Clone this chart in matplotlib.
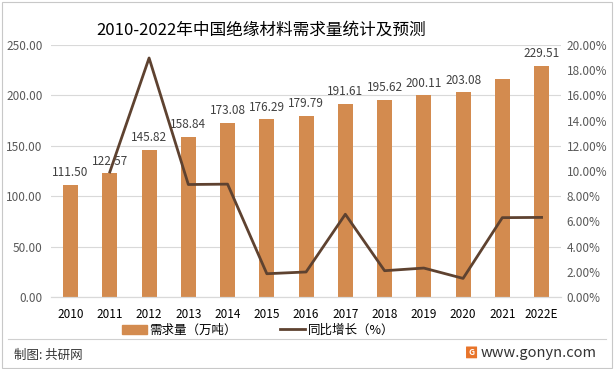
import matplotlib
matplotlib.use("Agg")
import matplotlib.pyplot as plt
from matplotlib.patches import Rectangle, FancyBboxPatch
from matplotlib.lines import Line2D
import numpy as np

plt.rcParams['font.family'] = ['Noto Sans CJK SC', 'DejaVu Sans']

years = ["2010", "2011", "2012", "2013", "2014", "2015", "2016", "2017", "2018", "2019", "2020", "2021", "2022E"]
demand = [111.50, 122.57, 145.82, 158.84, 173.08, 176.29, 179.79, 191.61, 195.62, 200.11, 203.08, 215.87, 229.51]
growth = [None, 9.93, 18.97, 8.93, 8.96, 1.85, 1.99, 6.57, 2.09, 2.30, 1.48, 6.30, 6.32]
labeled = [True] * 11 + [False, True]
left_ticks = [0, 50, 100, 150, 200, 250]
right_ticks = [0, 2, 4, 6, 8, 10, 12, 14, 16, 18, 20]

bar_color = "#D38B4F"
line_color = "#5E4230"
tick_gray = "#595959"

fig = plt.figure(figsize=(6.14, 3.69), dpi=100)
ax = fig.add_axes([0.083, 0.195, 0.831, 0.683])
ax2 = ax.twinx()

x = np.arange(len(years))
ax.bar(x, demand, width=0.38, color=bar_color, zorder=2)
for xi, v, lab in zip(x, demand, labeled):
    if lab:
        ax.annotate(f"{v:.2f}", (xi, v), xytext=(0, 4), textcoords="offset points",
                    ha="center", va="bottom", fontsize=8.5, color="#404040", zorder=3)

gx = [xi for xi, g in zip(x, growth) if g is not None]
gy = [g for g in growth if g is not None]
ax2.plot(gx, gy, color=line_color, linewidth=2.0, zorder=4)

ax.set_xlim(-0.5, len(years) - 0.5)
ax.set_ylim(0, 250)
ax2.set_ylim(0, 20)
ax.set_yticks(left_ticks)
ax.set_yticklabels([f"{t:.2f}" for t in left_ticks])
ax2.set_yticks(right_ticks)
ax2.set_yticklabels([f"{t:.2f}%" for t in right_ticks])
ax.set_xticks(x)
ax.set_xticklabels(years)

ax.grid(axis="y", color="#D9D9D9", linewidth=0.8, zorder=0)
ax.set_axisbelow(True)
for a in (ax, ax2):
    for s in ("top", "left", "right"):
        a.spines[s].set_visible(False)
    a.spines["bottom"].set_color("#D9D9D9")
ax.tick_params(axis="y", length=0, labelsize=8.5, labelcolor=tick_gray, pad=6)
ax2.tick_params(axis="y", length=0, labelsize=8.5, labelcolor=tick_gray, pad=4)
ax.tick_params(axis="x", length=0, labelsize=8.5, labelcolor="#000000", pad=8)
ax.set_zorder(ax2.get_zorder() - 1)
ax.patch.set_visible(False)

fig.text(0.425, 0.918, "2010-2022年中国绝缘材料需求量统计及预测", ha="center", va="center",
         fontsize=12, color="#000000")

handles = [Rectangle((0, 0), 1, 1, color=bar_color),
           Line2D([0], [0], color=line_color, linewidth=2.0)]
fig.legend(handles, ["需求量（万吨）", "同比增长（%）"], loc="center", ncol=2,
           bbox_to_anchor=(0.42, 0.105), frameon=False, fontsize=9,
           handlelength=2.0, handletextpad=0.2, columnspacing=3.5)

# footer separator
fig.add_artist(Line2D([0.013, 0.987], [0.082, 0.082], color="#D0D0D0", linewidth=0.8))
fig.text(0.022, 0.037, "制图: 共研网", ha="left", va="center", fontsize=9, color="#333333")
fig.text(0.782, 0.043, "www.gonyn.com", ha="left", va="center", fontsize=10.5, color="#333333")
logo = FancyBboxPatch((0.760, 0.030), 0.016, 0.030, boxstyle="round,pad=0.001",
                      transform=fig.transFigure, facecolor="#E8742A", edgecolor="none")
fig.add_artist(logo)
fig.text(0.768, 0.045, "G", ha="center", va="center", fontsize=6, color="white", fontweight="bold")

# outer border
fig.add_artist(Rectangle((0.003, 0.004), 0.994, 0.99, transform=fig.transFigure,
                         fill=False, edgecolor="#C8C8C8", linewidth=0.8))

fig.savefig("out.png", dpi=100)
